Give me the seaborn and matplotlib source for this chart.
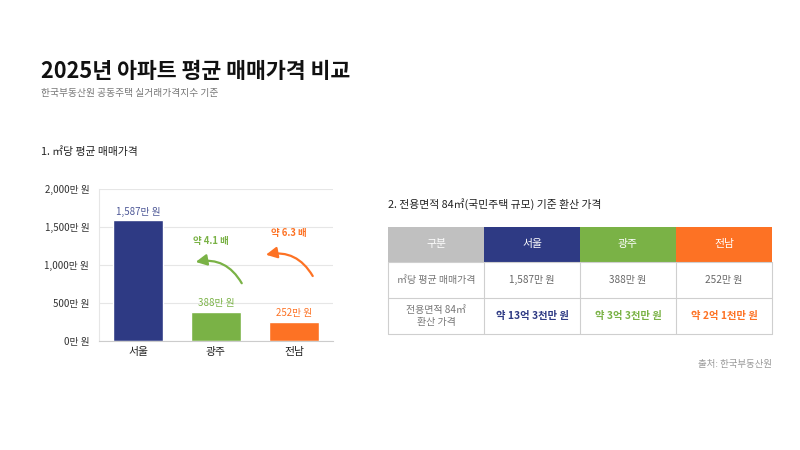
import matplotlib
matplotlib.use("Agg")
import matplotlib.pyplot as plt
from matplotlib.patches import Rectangle
import seaborn as sns
import pandas as pd

# ---- data ----
cities = ["서울", "광주", "전남"]
price_per_m2 = [1587, 388, 252]              # 만 원 / ㎡
value_labels = ["1,587만 원", "388만 원", "252만 원"]
ratio_labels = ["약 4.1 배", "약 6.3 배"]     # 서울 대비 광주, 전남
yticks = [0, 500, 1000, 1500, 2000]
ytick_labels = ["0만 원", "500만 원", "1,000만 원", "1,500만 원", "2,000만 원"]
converted_84 = ["약 13억 3천만 원", "약 3억 3천만 원", "약 2억 1천만 원"]
table_header = ["구분"] + cities
row_labels = ["㎡당 평균 매매가격", "전용면적 84㎡\n환산 가격"]

colors = ["#2e3a84", "#7ab246", "#fd7224"]
header_gray = "#c0c0c0"

sns.set_theme(style="white")
plt.rcParams["font.family"] = ["Noto Sans CJK KR", "DejaVu Sans"]

fig = plt.figure(figsize=(8, 4.5), dpi=100)
fig.patch.set_facecolor("white")

# overlay for titles and table (pixel coordinates)
ov = fig.add_axes([0, 0, 1, 1])
ov.set_xlim(0, 800)
ov.set_ylim(450, 0)
ov.axis("off")

ov.text(41, 71, "2025년 아파트 평균 매매가격 비교", fontsize=15.6, fontweight="bold",
        color="#111111", va="center", ha="left")
ov.text(41, 93, "한국부동산원 공동주택 실거래가격지수 기준", fontsize=7.0,
        color="#777777", va="center", ha="left")
ov.text(41, 152, "1. ㎡당 평균 매매가격", fontsize=7.8, color="#222222",
        va="center", ha="left")
ov.text(388, 204, "2. 전용면적 84㎡(국민주택 규모) 기준 환산 가격", fontsize=7.8,
        color="#222222", va="center", ha="left")
ov.text(772, 364, "출처: 한국부동산원", fontsize=6.8, color="#999999",
        va="center", ha="right")

# ---- table ----
col_x = [388, 484, 580, 676, 772]
row_y = [227, 262, 298, 334]
header_fill = [header_gray] + colors
for i in range(4):
    ov.add_patch(Rectangle((col_x[i], row_y[0]), col_x[i + 1] - col_x[i],
                           row_y[1] - row_y[0], facecolor=header_fill[i],
                           edgecolor="none"))
    ov.text((col_x[i] + col_x[i + 1]) / 2, (row_y[0] + row_y[1]) / 2,
            table_header[i], color="white", fontsize=7.8, ha="center", va="center")
grid_c = "#cfcfcf"
for y in row_y[1:]:
    ov.plot([col_x[0], col_x[-1]], [y, y], color=grid_c, lw=0.8)
for x in col_x:
    ov.plot([x, x], [row_y[1], row_y[-1]], color=grid_c, lw=0.8)
# row 1
ov.text((col_x[0] + col_x[1]) / 2, (row_y[1] + row_y[2]) / 2, row_labels[0],
        color="#777777", fontsize=7.2, ha="center", va="center")
for i in range(3):
    ov.text((col_x[i + 1] + col_x[i + 2]) / 2, (row_y[1] + row_y[2]) / 2,
            value_labels[i], color="#666666", fontsize=7.2, ha="center", va="center")
# row 2
ov.text((col_x[0] + col_x[1]) / 2, (row_y[2] + row_y[3]) / 2, row_labels[1],
        color="#777777", fontsize=7.2, ha="center", va="center", linespacing=1.25)
for i in range(3):
    ov.text((col_x[i + 1] + col_x[i + 2]) / 2, (row_y[2] + row_y[3]) / 2,
            converted_84[i], color=colors[i], fontsize=7.4, fontweight="bold",
            ha="center", va="center")

# ---- bar chart ----
ax = fig.add_axes([99 / 800, 109 / 450, 234 / 800, 152 / 450])
df = pd.DataFrame({"city": cities, "price": price_per_m2})
sns.barplot(data=df, x="city", y="price", hue="city", palette=colors,
            legend=False, width=0.65, ax=ax, saturation=1)
ax.set_xlim(-0.5, 2.5)
ax.set_ylim(0, 2000)
ax.set_yticks(yticks)
ax.set_yticklabels(ytick_labels)
ax.set_xlabel("")
ax.set_ylabel("")
ax.tick_params(axis="y", labelsize=7.0, colors="#333333", length=0, pad=7)
ax.tick_params(axis="x", labelsize=7.8, colors="#222222", length=0, pad=4)
ax.yaxis.grid(True, color="#e6e6e6", lw=0.8)
ax.set_axisbelow(True)
for s in ["top", "right"]:
    ax.spines[s].set_visible(False)
ax.spines["left"].set_color("#e6e6e6")
ax.spines["left"].set_linewidth(0.8)
ax.spines["bottom"].set_color("#cccccc")
ax.spines["bottom"].set_linewidth(0.8)

for i, (v, lab) in enumerate(zip(price_per_m2, value_labels)):
    ax.annotate(lab, (i, v), xytext=(0, 2.5), textcoords="offset points",
                ha="center", va="bottom", fontsize=7.0, color=colors[i],
                alpha=0.85 if i == 0 else 1)

# ratio arrows
arrow_specs = [((1.33, 760), (0.74, 1040), (0.93, 1316), colors[1]),
               ((2.24, 855), (1.64, 1135), (1.93, 1421), colors[2])]
for (start, end, lab_pos, c), lab in zip(arrow_specs, ratio_labels):
    ax.annotate("", xy=end, xytext=start,
                arrowprops=dict(arrowstyle="-|>,head_length=0.55,head_width=0.28",
                                color=c, lw=1.6, shrinkA=0, shrinkB=0,
                                connectionstyle="arc3,rad=0.35"))
    ax.text(lab_pos[0], lab_pos[1], lab, color=c, fontsize=6.8, fontweight="bold",
            ha="center", va="center")

fig.savefig("out.png", dpi=100, facecolor="white")
